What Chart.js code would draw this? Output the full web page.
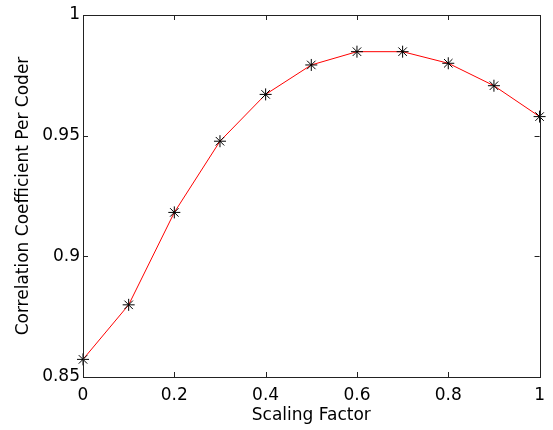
<!DOCTYPE html>
<html>
<head>
<meta charset="utf-8">
<script src="https://cdn.jsdelivr.net/npm/chart.js@4/dist/chart.umd.min.js"></script>
<style>
  html, body { margin: 0; padding: 0; background: #fff; }
  #wrap { width: 553px; height: 430px; position: relative; }
</style>
</head>
<body>
<div id="wrap"><canvas id="chart"></canvas></div>
<script>
// data
const scaling = [0, 0.1, 0.2, 0.3, 0.4, 0.5, 0.6, 0.7, 0.8, 0.9, 1.0]
const corr = [0.8573, 0.8799, 0.9182, 0.9477, 0.9671, 0.9793, 0.9848, 0.9848, 0.9800, 0.9707, 0.9579]
const xTicks = [0, 0.2, 0.4, 0.6, 0.8, 1]
const yTicks = [0.85, 0.9, 0.95, 1]

const txtFont = { family: 'DejaVu Sans', size: 17 }

// box round the plot + small inward ticks on all four sides
const boxPlugin = {
    id: 'box',
    afterDraw(chart) {
        const c = chart.ctx
        const a = chart.chartArea
        const xs = chart.scales.x
        const ys = chart.scales.y
        c.save()
        c.strokeStyle = '#222'
        c.lineWidth = 1
        c.beginPath()
        xTicks.forEach(function(v){
            const px = Math.round(xs.getPixelForValue(v)) + 0.5
            c.moveTo(px, a.bottom); c.lineTo(px, a.bottom - 5)
            c.moveTo(px, a.top); c.lineTo(px, a.top + 5)
        })
        yTicks.forEach(function(v){
            const py = Math.round(ys.getPixelForValue(v)) + 0.5
            c.moveTo(a.left, py); c.lineTo(a.left + 5, py)
            c.moveTo(a.right, py); c.lineTo(a.right - 5, py)
        })
        c.stroke()
        c.strokeRect(Math.round(a.left) + 0.5, Math.round(a.top) + 0.5,
            Math.round(a.right - a.left), Math.round(a.bottom - a.top))
        c.restore()
    }
}

document.addEventListener('DOMContentLoaded', function() {
    const ctx = document.getElementById('chart').getContext('2d')
    new Chart(ctx, {
        type: 'line',
        data: {
            datasets: [{
                data: scaling.map(function(x, i){ return { x: x, y: corr[i] } }),
                borderColor: '#ff0000',
                borderWidth: 1,
                pointStyle: 'star',
                pointRadius: 6,
                pointBorderColor: '#000',
                pointBorderWidth: 1,
                pointBackgroundColor: '#000',
                tension: 0,
                fill: false,
                clip: false
            }]
        },
        options: {
            responsive: true,
            maintainAspectRatio: false,
            animation: false,
            layout: { padding: { left: 0, right: 10, top: 15, bottom: 0 } },
            plugins: {
                legend: { display: false },
                tooltip: { enabled: false }
            },
            scales: {
                x: {
                    type: 'linear',
                    min: 0,
                    max: 1,
                    afterBuildTicks: function(s){ s.ticks = xTicks.map(function(v){ return { value: v } }) },
                    afterFit: function(s){ s.height = 53 },
                    grid: { display: false, drawTicks: false },
                    border: { display: false },
                    ticks: {
                        color: '#000',
                        padding: 8,
                        maxRotation: 0,
                        font: txtFont,
                        callback: function(v){ return String(v) }
                    },
                    title: {
                        display: true,
                        text: 'Scaling Factor',
                        color: '#000',
                        font: txtFont,
                        padding: { top: 0, bottom: 4 }
                    }
                },
                y: {
                    min: 0.85,
                    max: 1,
                    afterBuildTicks: function(s){ s.ticks = yTicks.map(function(v){ return { value: v } }) },
                    afterFit: function(s){ s.width = 83 },
                    grid: { display: false, drawTicks: false },
                    border: { display: false },
                    ticks: {
                        color: '#000',
                        padding: 3,
                        font: txtFont,
                        callback: function(v){ return String(v) }
                    },
                    title: {
                        display: true,
                        text: 'Correlation Coefficient Per Coder',
                        color: '#000',
                        font: txtFont,
                        padding: { top: 13, bottom: 0 }
                    }
                }
            }
        },
        plugins: [boxPlugin]
    })
})
</script>
</body>
</html>
